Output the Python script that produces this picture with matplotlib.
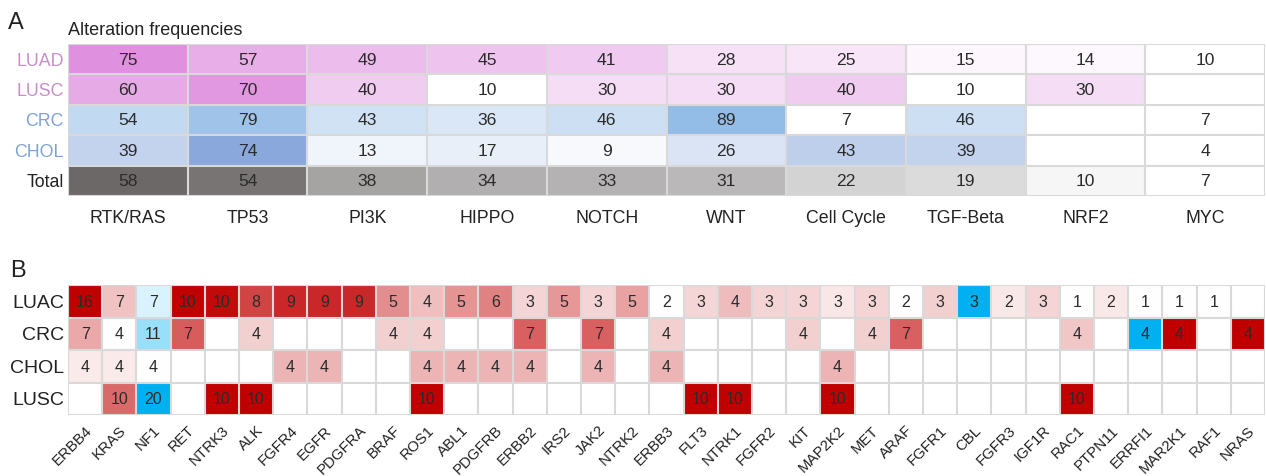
import numpy as np
import matplotlib.pyplot as plt
from matplotlib.colors import LinearSegmentedColormap
from matplotlib.transforms import ScaledTranslation

plt.rcParams['font.family'] = ['Liberation Sans', 'DejaVu Sans']

n = np.nan

# ---- panel A: pathway alteration frequencies (%) ----
pathways = ["RTK/RAS", "TP53", "PI3K", "HIPPO", "NOTCH", "WNT",
            "Cell Cycle", "TGF-Beta", "NRF2", "MYC"]
cohorts_a = ["LUAD", "LUSC", "CRC", "CHOL", "Total"]
luad = [75, 57, 49, 45, 41, 28, 25, 15, 14, 10]
lusc = [60, 70, 40, 10, 30, 30, 40, 10, 30, n]
crc = [54, 79, 43, 36, 46, 89, 7, 46, n, 7]
chol = [39, 74, 13, 17, 9, 26, 43, 39, n, 4]
total = [58, 54, 38, 34, 33, 31, 22, 19, 10, 7]

# ---- panel B: gene level counts ----
genes = ["ERBB4", "KRAS", "NF1", "RET", "NTRK3", "ALK", "FGFR4", "EGFR", "PDGFRA",
         "BRAF", "ROS1", "ABL1", "PDGFRB", "ERBB2", "IRS2", "JAK2", "NTRK2", "ERBB3",
         "FLT3", "NTRK1", "FGFR2", "KIT", "MAP2K2", "MET", "ARAF", "FGFR1", "CBL",
         "FGFR3", "IGF1R", "RAC1", "PTPN11", "ERRFI1", "MAR2K1", "RAF1", "NRAS"]
cohorts_b = ["LUAC", "CRC", "CHOL", "LUSC"]
luac_b = [16, 7, 7, 10, 10, 8, 9, 9, 9, 5, 4, 5, 6, 3, 5, 3, 5, 2, 3, 4, 3, 3, 3,
          3, 2, 3, 3, 2, 3, 1, 2, 1, 1, 1, n]
crc_b = [7, 4, 11, 7, n, 4, n, n, n, 4, 4, n, n, 7, n, 7, n, 4, n, n, n, 4, n,
         4, 7, n, n, n, n, 4, n, 4, 4, n, 4]
chol_b = [4, 4, 4, n, n, n, 4, 4, n, n, 4, 4, 4, 4, n, 4, n, 4, n, n, n, n, 4,
          n, n, n, n, n, n, n, n, n, n, n, n]
lusc_b = [n, 10, 20, n, 10, 10, n, n, n, n, 10, n, n, n, n, n, n, n, 10, 10, n, n, 10,
          n, n, n, n, n, n, 10, n, n, n, n, n]
# cell shading: >0 red intensity, <0 blue intensity
luac_s = [1, .24, -.15, 1, .96, .73, .84, .84, .84, .44, .25, .42, .49, .17, .40, .17,
          .36, 0, .16, .26, .17, .17, .10, .17, 0, .18, -1, .09, .17, 0, .09, 0, 0, 0, 0]
crc_s = [.34, 0, -.4, .64, 0, .18, 0, 0, 0, .18, .18, 0, 0, .62, 0, .62, 0, .18, 0,
         0, 0, .18, 0, .18, .62, 0, 0, 0, 0, .22, 0, -1, 1, 0, 1]
chol_s = [.08, .08, 0, 0, 0, 0, .29, .29, 0, 0, .29, .29, .29, .29, 0, .29, 0, .29,
          0, 0, 0, 0, .29, 0, 0, 0, 0, 0, 0, 0, 0, 0, 0, 0, 0]
lusc_s = [0, .58, -1, 0, 1, 1, 0, 0, 0, 0, 1, 0, 0, 0, 0, 0, 0, 0, 1, 1, 0, 0, 1,
          0, 0, 0, 0, 0, 0, 1, 0, 0, 0, 0, 0]

grid_col = '#d9d9d9'
num_col = '#2b2b2b'
W, H = 1266, 476

fig = plt.figure(figsize=(W / 100, H / 100), dpi=100)

# ---------------- panel A ----------------
axA = fig.add_axes([68 / W, 1 - 196 / H, 1197 / W, 152 / H])
rows_a = [luad, lusc, crc, chol, total]
row_style = [('#df90df', 10, 75), ('#df90df', 10, 75), ('#93bce6', 7, 89),
             ('#8aa8dc', 4, 74), ('#6c6868', 7, 58)]
xe = np.arange(len(pathways) + 1)
for i, (vals, (c_end, lo, hi)) in enumerate(zip(rows_a, row_style)):
    cmap = LinearSegmentedColormap.from_list('r%d' % i, ['white', c_end])
    arr = np.ma.masked_invalid(np.array([vals], dtype=float))
    axA.pcolormesh(xe, [i, i + 1], arr, cmap=cmap, vmin=lo, vmax=hi)
    for j, v in enumerate(vals):
        if not np.isnan(v):
            axA.text(j + 0.5, i + 0.53, '%d' % v, ha='center', va='center',
                     fontsize=12.6, color=num_col)
axA.hlines(np.arange(len(cohorts_a) + 1), 0, len(pathways), color=grid_col, lw=1.5)
axA.vlines(xe, 0, len(cohorts_a), color=grid_col, lw=1.5)
axA.set_xlim(0, len(pathways))
axA.set_ylim(len(cohorts_a), 0)
axA.set_xticks(xe[:-1] + 0.5)
axA.set_xticklabels(pathways, fontsize=12.8, color='#222222')
axA.set_yticks(np.arange(len(cohorts_a)) + 0.5)
axA.set_yticklabels(cohorts_a, fontsize=12.8)
lab_cols = ['#c98dc9', '#c98dc9', '#7ea3d8', '#7ea3d8', '#222222']
for t, c in zip(axA.get_yticklabels(), lab_cols):
    t.set_color(c)
axA.tick_params(length=0, pad=3)
axA.tick_params(axis='x', pad=10)
for s in axA.spines.values():
    s.set_visible(False)

fig.text(68 / W, 1 - 35 / H, 'Alteration frequencies', fontsize=13,
         color='#222222', va='baseline')
fig.text(8 / W, 1 - 29 / H, 'A', fontsize=17, color='#222222', va='baseline')

# ---------------- panel B ----------------
axB = fig.add_axes([68 / W, 1 - 415 / H, 1197 / W, 130 / H])
vals_b = np.array([luac_b, crc_b, chol_b, lusc_b], dtype=float)
shade_b = np.array([luac_s, crc_s, chol_s, lusc_s], dtype=float)
cmapB = LinearSegmentedColormap.from_list('bwr_b', ['#00b0f0', 'white', '#c00000'])
xb = np.arange(len(genes) + 1)
yb = np.arange(len(cohorts_b) + 1)
axB.pcolormesh(xb, yb, np.ma.masked_where(np.isnan(vals_b), shade_b),
               cmap=cmapB, vmin=-1, vmax=1)
for i in range(len(cohorts_b)):
    for j in range(len(genes)):
        v = vals_b[i, j]
        if not np.isnan(v):
            axB.text(j + 0.5, i + 0.53, '%d' % v, ha='center', va='center',
                     fontsize=11.5, color=num_col)
axB.hlines(yb, 0, len(genes), color=grid_col, lw=1.5)
axB.vlines(xb, 0, len(cohorts_b), color=grid_col, lw=1.5)
axB.set_xlim(0, len(genes))
axB.set_ylim(len(cohorts_b), 0)
axB.set_xticks(xb[:-1] + 0.5)
axB.set_xticklabels(genes, rotation=45, ha='right', rotation_mode='anchor',
                    fontsize=10.8, color='#222222')
shift = ScaledTranslation(7 / 100, 4 / 100, fig.dpi_scale_trans)
for t in axB.get_xticklabels():
    t.set_transform(t.get_transform() + shift)
axB.set_yticks(yb[:-1] + 0.5)
axB.set_yticklabels(cohorts_b, fontsize=14, color='#222222')
axB.tick_params(length=0, pad=3)
axB.tick_params(axis='x', pad=6)
for s in axB.spines.values():
    s.set_visible(False)

fig.text(10 / W, 1 - 277 / H, 'B', fontsize=17, color='#222222', va='baseline')

fig.savefig('out.png', dpi=100)
